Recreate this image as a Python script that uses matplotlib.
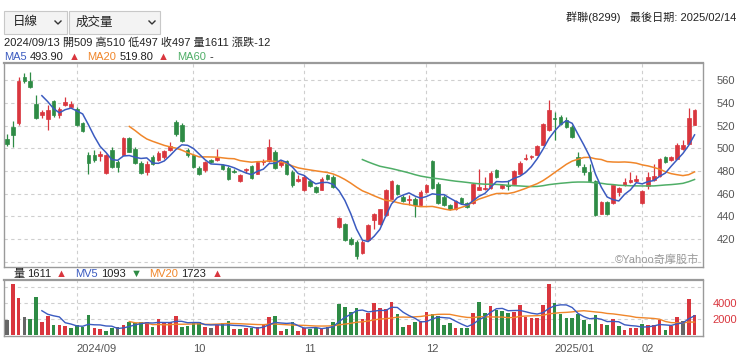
import matplotlib
matplotlib.use('Agg')
import matplotlib.pyplot as plt
import numpy as np
import pandas as pd

plt.rcParams['font.family'] = ['Liberation Sans', 'Noto Sans CJK TC', 'DejaVu Sans']

# ---------------- data ----------------
holidays = ['2024-09-17', '2024-10-02', '2024-10-03', '2024-10-10', '2024-10-31',
            '2025-01-01', '2025-01-23', '2025-01-24', '2025-01-27', '2025-01-28',
            '2025-01-29', '2025-01-30', '2025-01-31']
dates = pd.bdate_range('2024-08-15', '2025-02-14')
dates = dates[~dates.isin(pd.to_datetime(holidays))]

opens = [508, 518.5, 522, 563, 559.5, 539.5, 529, 525.5, 541.5, 529,
         538.5, 536.5, 535, 522.5, 494, 494.5, 493.5, 478, 499, 488,
         494, 509, 499.5, 487, 479, 492.5, 490, 492.5, 499, 523.3,
         521, 498.2, 494, 482.8, 480.7, 490, 489.5, 485.7, 482.8, 480.5,
         471.3, 481, 484.5, 477.8, 488, 488.6, 497, 485, 488.6, 479.2,
         471, 463, 471, 466, 463.7, 476.5, 474.8, 430.8, 433.7, 420.5,
         417.6, 408, 419, 436.6, 433, 441, 455.7, 467.5, 457.2, 454.3,
         455.2, 449.9, 461.6, 488.6, 469, 457.2, 450.5, 446.3, 456.3, 452.2,
         452.2, 463.7, 464.6, 465, 480.7, 465.1, 468, 469, 477.8, 490.4,
         492, 494.5, 503.3, 515.9, 526.5, 527.7, 524.8, 518.9, 492.5, 483.6,
         479.2, 471, 442.5, 452.8, 452.2, 461.6, 467.5, 470.4, 471.3, 452.2,
         466.9, 471.9, 475.4, 492.5, 489.5, 491, 499.2, 504.2, 521]
highs = [513, 524, 563, 566, 567, 547, 533.5, 538, 542.5, 536.5,
         545, 541.5, 536.5, 523.5, 497, 499, 498, 495, 501, 490,
         510, 510, 501, 488.5, 489, 494, 498, 499, 505.5, 524.8,
         522, 500, 495, 484.5, 489, 491, 499.8, 486.6, 484.5, 482,
         477.8, 482.8, 485.7, 488.6, 491, 508, 498.3, 489.5, 489.5, 480.7,
         476.3, 476.3, 472.8, 466.9, 474.8, 477.8, 476.3, 439.6, 434.6, 422,
         419, 419, 433.1, 443, 446.9, 464.6, 471.9, 469, 458.7, 458.7,
         457.2, 463.1, 469, 489.5, 470.4, 458.7, 451.3, 454.3, 457.2, 452.8,
         469.8, 481.6, 474.8, 479.8, 482.2, 469, 471.9, 480.7, 488.6, 495.4,
         494.5, 502.7, 522.7, 542.4, 532.1, 529.2, 527.7, 520.3, 496.9, 486.6,
         486.6, 471.9, 453.4, 453.4, 468.1, 466, 474, 479.2, 476.3, 463.1,
         479.2, 486.6, 491.9, 493.3, 493.3, 505.1, 507.1, 535.6, 535]
lows = [502.5, 501, 521, 558, 553, 526, 527, 516.5, 527.5, 527,
        537.5, 536, 520, 514.5, 477, 488, 489, 477, 482.5, 479.5,
        494, 497, 486, 477, 476.5, 485, 489, 491, 498, 511,
        505.5, 492.5, 482.5, 476.5, 479, 487, 488.5, 480.7, 471.9, 478,
        470.4, 478.6, 473.4, 477.2, 485.1, 488, 482.2, 483.6, 476.3, 466,
        470.4, 462.2, 466, 461, 463, 471.9, 465.1, 430.2, 418.4, 414.6,
        402.9, 407, 418.1, 429.3, 432.2, 440.5, 455.2, 459.3, 452.8, 449.9,
        439.6, 449.3, 461, 464.6, 451.3, 448.9, 445.4, 445.4, 451.3, 447.5,
        451.3, 463.1, 463.1, 464.6, 474, 464.6, 463.1, 468.4, 477.2, 489.5,
        491, 493.9, 502.7, 515.4, 507.1, 520.3, 518.3, 509.2, 483.6, 476.3,
        470.4, 440.5, 441.9, 441, 451.3, 458.1, 466.9, 469.8, 470.4, 451.3,
        464.6, 471, 474.8, 487.5, 488.9, 490.4, 498.3, 504.2, 520.3]
closes = [503.5, 512, 559.5, 559.5, 554, 527, 532, 533.5, 529, 535,
          541, 539, 521, 515.5, 487, 490, 495, 494.5, 484, 484,
          509, 497, 487, 478.5, 486.5, 486, 496, 497.5, 502.5, 513,
          506.5, 494, 483.6, 477.8, 488, 488, 492.5, 481.6, 472.8, 479.5,
          476.3, 481.6, 474, 488, 488.3, 501.3, 482.8, 488, 477.8, 467.5,
          472.8, 474.8, 466.9, 461.6, 473.4, 473.4, 466, 438.7, 419, 415.5,
          405, 417.6, 432.2, 442.2, 446.3, 463.7, 471, 460.1, 453.4, 455.7,
          449.9, 461.6, 467.5, 465.1, 452.2, 449.9, 446.3, 453.4, 452.2, 448.4,
          469, 466, 465.5, 478.6, 474.8, 467.5, 467.2, 479.8, 487.5, 491.9,
          493.4, 501.8, 521.8, 533.6, 526, 521.8, 518.9, 510.1, 485.1, 479.2,
          471, 441, 452.8, 441.9, 467.5, 465.1, 470.4, 472.5, 473.4, 462.2,
          474.8, 475.4, 491, 488, 492.5, 503, 503, 526.8, 534.2]
volumes = [1833, 6333, 4542, 2167, 1917, 4750, 1625, 2333, 1208, 1208,
           1125, 792, 1167, 1000, 2417, 833, 708, 500, 875, 1000,
           1167, 1611, 1500, 1625, 1583, 1000, 2000, 1417, 1625, 2333,
           1000, 1125, 1542, 1625, 1000, 792, 1208, 1417, 1708, 708,
           667, 875, 875, 958, 1333, 2208, 2333, 500, 708, 1583,
           500, 875, 667, 875, 875, 1000, 1625, 3833, 3500, 2792,
           3292, 2000, 2667, 4000, 3292, 3167, 4042, 2542, 1000, 1208,
           1542, 1708, 2792, 2583, 2375, 1208, 1417, 875, 792, 792,
           2750, 4125, 2667, 3625, 3083, 2958, 2667, 2792, 3708, 2250,
           2042, 2125, 3708, 6292, 3917, 2625, 2083, 2083, 2625, 1875,
           1292, 2500, 1375, 1167, 2000, 1042, 625, 875, 875, 1375,
           1167, 1167, 1792, 625, 1042, 2208, 1667, 4417, 2500]

price_ticks = [400, 420, 440, 460, 480, 500, 520, 540, 560]
vol_ticks = [2000, 4000, 6000]

# ---------------- style ----------------
RED = '#d9363e'
GREEN = '#2e8b45'
GRAY = '#666666'
BLUE = '#3b5bc0'
ORANGE = '#f0862a'
MGREEN = '#4fae67'
GRID = '#cfcfcf'
SPINE = '#9a9a9a'

W, H = 740, 360
def fx(x):
    return x / W
def fy(y):
    return 1 - y / H

fig = plt.figure(figsize=(7.4, 3.6), dpi=100)
fig.patch.set_facecolor('white')

n = len(closes)
idx = np.arange(n)
o = np.array(opens); h = np.array(highs); l = np.array(lows); c = np.array(closes)
v = np.array(volumes)

ax = fig.add_axes([fx(4), fy(267), (703 - 4) / W, (267 - 63) / H])
axv = fig.add_axes([fx(4), fy(336), (703 - 4) / W, (336 - 280) / H])

# month ticks
months = pd.Series(dates.to_period('M'))
first_idx = [i for i in range(1, n) if months[i] != months[i - 1]]
month_labels = []
for i in first_idx:
    d = dates[i]
    if d.month == 1 or i == first_idx[0]:
        month_labels.append(d.strftime('%Y/%m'))
    else:
        month_labels.append(d.strftime('%m'))

xlim = (-0.5, n - 1 + 1.45)

# candles
up = c >= o
ccol = np.where(up, RED, GREEN)
body_bottom = np.minimum(o, c)
body_h = np.maximum(np.abs(c - o), 0.8)
ax.vlines(idx, l, h, colors=ccol, linewidth=0.9, zorder=3)
ax.bar(idx, body_h, bottom=body_bottom, width=0.62, color=ccol, edgecolor=ccol,
       linewidth=0.5, zorder=4)

cs = pd.Series(c)
ma5 = cs.rolling(5).mean().where(idx >= 6)
ma20 = cs.rolling(20).mean().where(idx >= 21)
ma60 = cs.rolling(60).mean().where(idx >= 61)
ax.plot(idx, ma60, color=MGREEN, lw=1.1, zorder=5)
ax.plot(idx, ma20, color=ORANGE, lw=1.1, zorder=5)
ax.plot(idx, ma5, color=BLUE, lw=1.1, zorder=6)

ax.set_xlim(*xlim)
ax.set_ylim(395.5, 575.2)
ax.set_yticks(price_ticks)
ax.set_yticklabels(['' if t == 400 else str(t) for t in price_ticks])
ax.yaxis.tick_right()
ax.tick_params(axis='y', length=0, pad=10, labelsize=8, labelcolor='#555555')
ax.set_xticks(first_idx)
ax.tick_params(axis='x', length=0, labelbottom=False)
ax.grid(True, color=GRID, linestyle=(0, (3, 3)), linewidth=0.8)
ax.set_axisbelow(True)
for s in ax.spines.values():
    s.set_color(SPINE)
    s.set_linewidth(1.0)
ax.spines['top'].set_linewidth(1.6)
ax.text(0.995, 0.012, '©Yahoo奇摩股市', transform=ax.transAxes, ha='right', va='bottom',
        fontsize=8, color='#9a9a9a')

# volume
diff = np.diff(c, prepend=np.nan)
vcol = np.where(diff > 0, RED, np.where(diff < 0, GREEN, GRAY))
axv.bar(idx, v, width=0.62, color=vcol, zorder=3)
vs = pd.Series(v.astype(float))
mv5 = vs.rolling(5).mean().where(idx >= 6)
mv20 = vs.rolling(20).mean().where(idx >= 21)
axv.plot(idx, mv20, color=ORANGE, lw=1.0, zorder=4)
axv.plot(idx, mv5, color=BLUE, lw=1.0, zorder=5)
axv.set_xlim(*xlim)
axv.set_ylim(-160, 6840)
axv.set_yticks(vol_ticks)
axv.set_yticklabels(['2000', '4000', ''])
axv.yaxis.tick_right()
axv.tick_params(axis='y', length=0, pad=7, labelsize=8, labelcolor=RED)
axv.set_xticks(first_idx)
axv.set_xticklabels(month_labels)
axv.tick_params(axis='x', length=0, pad=6, labelsize=8, labelcolor='#555555')
for lab in axv.get_xticklabels():
    lab.set_horizontalalignment('left')
axv.grid(True, color=GRID, linestyle=(0, (3, 3)), linewidth=0.8)
axv.set_axisbelow(True)
for s in axv.spines.values():
    s.set_color(SPINE)
    s.set_linewidth(1.0)
axv.spines['top'].set_linewidth(1.6)

# ---------------- header ----------------
def box(x0, x1, y0, y1):
    r = plt.Rectangle((fx(x0), fy(y1)), fx(x1) - fx(x0), fy(y0) - fy(y1),
                      transform=fig.transFigure, facecolor='#f3f3f3',
                      edgecolor='#c8c8c8', linewidth=0.8)
    fig.add_artist(r)

def chevron(xc, yc):
    fig.add_artist(plt.Line2D([fx(xc - 3), fx(xc), fx(xc + 3)],
                              [fy(yc - 1.5), fy(yc + 1.5), fy(yc - 1.5)],
                              transform=fig.transFigure, color='#333333', lw=1.0))

box(4, 67, 11, 34)
box(69, 160, 11, 34)
fig.text(fx(13), fy(22.5), '日線', fontsize=9, va='center', ha='left', color='#222222')
fig.text(fx(76), fy(22.5), '成交量', fontsize=9, va='center', ha='left', color='#222222')
chevron(58, 22.5)
chevron(152, 22.5)
fig.text(fx(736), fy(17), '群聯(8299)   最後日期: 2025/02/14', fontsize=8, va='center',
         ha='right', color='#222222')
fig.text(fx(4), fy(43), '2024/09/13 開509 高510 低497 收497 量1611 漲跌-12', fontsize=8,
         va='center', ha='left', color='#222222')

def seq(items, x0, y):
    x = x0
    r = fig.canvas.get_renderer()
    for txt, col, gap in items:
        t = fig.text(fx(x), fy(y), txt, fontsize=8, va='center', ha='left', color=col)
        bb = t.get_window_extent(renderer=r)
        x += bb.width + gap

seq([('MA5', BLUE, 3), ('493.90', '#222222', 5), ('▲', RED, 8),
     ('MA20', ORANGE, 3), ('519.80', '#222222', 5), ('▲', RED, 8),
     ('MA60', MGREEN, 3), ('-', '#222222', 0)], 4, 57)
seq([('量', '#222222', 3), ('1611', '#222222', 5), ('▲', RED, 8),
     ('MV5', BLUE, 3), ('1093', '#222222', 5), ('▼', GREEN, 8),
     ('MV20', ORANGE, 3), ('1723', '#222222', 5), ('▲', RED, 0)], 13, 274)

fig.savefig('out.png', dpi=100, facecolor='white')
